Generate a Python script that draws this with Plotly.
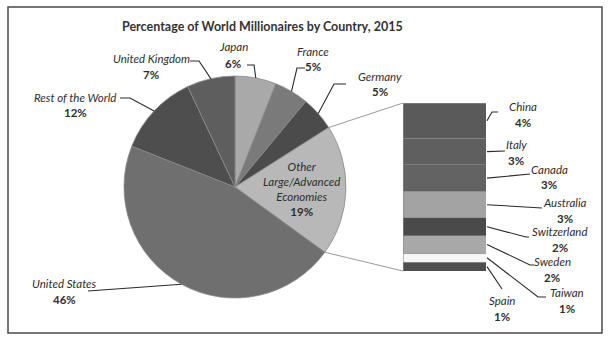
import math
import plotly.graph_objects as go

# ---------------- data ----------------
pie_labels = ["Japan", "France", "Germany", "Other<br>Large/Advanced<br>Economies",
              "United States", "Rest of the World", "United Kingdom"]
pie_values = [6, 5, 5, 19, 46, 12, 7]
pie_colors = ["#a9a9a9", "#7a7a7a", "#4b4b4b", "#b8b8b8", "#6f6f6f", "#4e4e4e", "#5e5e5e"]

bar_labels = ["Spain", "Taiwan", "Sweden", "Switzerland", "Australia", "Canada", "Italy", "China"]
bar_values = [1, 1, 2, 2, 3, 3, 3, 4]
bar_colors = ["#4f4f4f", "#f7f7f7", "#a8a8a8", "#4a4a4a", "#a3a3a3", "#636363", "#5f5f5f", "#5a5a5a"]

title = "Percentage of World Millionaires by Country, 2015"

# ---------------- layout geometry (pixels) ----------------
W, H = 609, 340
CX, CY, R = 235, 187, 111           # pie centre / radius
BX0, BX1, BY0, BY1 = 403, 486, 103, 271   # bar box (top y0, bottom y1)


def px(x):
    return x / W


def py(y):
    return 1 - y / H


def pie_point(frac):
    a = 2 * math.pi * frac
    return CX + R * math.sin(a), CY - R * math.cos(a)


total = sum(pie_values)
cum = []
c = 0
for v in pie_values:
    cum.append((c, c + v))
    c += v
mid = [pie_point((a + b) / 2 / total) for a, b in cum]

bar_total = sum(bar_values)
scale = (BY1 - BY0) / bar_total
bcum = []
c = 0
for v in bar_values:
    bcum.append((c, c + v))
    c += v
bar_mid_y = [BY1 - (a + b) / 2 * scale for a, b in bcum]

fig = go.Figure()

fig.add_trace(go.Pie(
    labels=pie_labels, values=pie_values, sort=False, direction="clockwise", rotation=0,
    marker=dict(colors=pie_colors, line=dict(color="#8a8a8a", width=0.8)),
    textinfo="none", hoverinfo="label+value", showlegend=False,
    domain=dict(x=[px(CX - R), px(CX + R)], y=[py(CY + R), py(CY - R)]),
))

for lab, val, col in zip(bar_labels, bar_values, bar_colors):
    fig.add_trace(go.Bar(
        x=[0], y=[val], name=lab, marker=dict(color=col, line=dict(color="#8c8c8c", width=0.6)),
        width=1, showlegend=False, xaxis="x", yaxis="y",
    ))

fig.update_layout(
    width=W, height=H, margin=dict(l=0, r=0, t=0, b=0),
    paper_bgcolor="white", plot_bgcolor="rgba(0,0,0,0)",
    barmode="stack",
    xaxis=dict(domain=[px(BX0), px(BX1)], range=[-0.5, 0.5], visible=False, fixedrange=True),
    yaxis=dict(domain=[py(BY1), py(BY0)], range=[0, bar_total], visible=False, fixedrange=True),
)

FONT = "Lato"
LBL = "#2e2e2e"
FS = 11.5
shapes = []
annotations = []

# frame
shapes.append(dict(type="rect", xref="paper", yref="paper", x0=px(8), x1=px(602), y0=py(333), y1=py(7),
                   line=dict(color="#4a4a4a", width=1.5)))

# title
annotations.append(dict(text="<b>" + title + "</b>", x=px(262), y=py(27), xref="paper", yref="paper",
                        showarrow=False, font=dict(family=FONT, size=12.5, color="#333333"),
                        xanchor="center", yanchor="middle"))


def path(points):
    s = "M {} {}".format(px(points[0][0]), py(points[0][1]))
    for x, y in points[1:]:
        s += " L {} {}".format(px(x), py(y))
    return s


def add_leader(points, color="#2a2a2a", width=1.1):
    shapes.append(dict(type="path", xref="paper", yref="paper", path=path(points),
                       line=dict(color=color, width=width)))


def add_label(name, val, x, y, size=FS):
    annotations.append(dict(text="<i>" + name + "</i>", x=px(x), y=py(y), xref="paper", yref="paper",
                            showarrow=False, font=dict(family=FONT, size=size, color=LBL),
                            xanchor="center", yanchor="middle"))
    annotations.append(dict(text="<b>" + str(val) + "%</b>", x=px(x), y=py(y + 16), xref="paper",
                            yref="paper", showarrow=False, font=dict(family=FONT, size=size, color=LBL),
                            xanchor="center", yanchor="middle"))


# pie labels: (text position, leader elbow points from label side)
pie_label_pos = {
    "Japan": ((233, 47), [(247, 65), (254, 65)]),
    "France": ((313, 51), [(305, 68), (297, 68)]),
    "Germany": ((380, 76), [(346, 84), (334, 84)]),
    "United Kingdom": ((151, 58), [(190, 61), (199, 61)]),
    "Rest of the World": ((75, 97), [(120, 98), (130, 98)]),
    "United States": ((64, 283), [(88, 291)]),
}
short_names = ["Japan", "France", "Germany", None, "United States", "Rest of the World", "United Kingdom"]
for i, nm in enumerate(short_names):
    if nm is None:
        continue
    (tx, ty), elbow = pie_label_pos[nm]
    add_label(nm, pie_values[i], tx, ty)
    add_leader(elbow + [mid[i]])

# inside label for Other
annotations.append(dict(text="<i>Other<br>Large/Advanced<br>Economies</i><br><b>19%</b>",
                        x=px(301), y=py(189), xref="paper", yref="paper", showarrow=False,
                        font=dict(family=FONT, size=FS, color=LBL), xanchor="center", yanchor="middle"))

# connector lines pie -> bar
p_top = pie_point(cum[2][1] / total)
p_bot = pie_point(cum[3][1] / total)
add_leader([p_top, (BX0, BY0)], color="#9a9a9a", width=1)
add_leader([p_bot, (BX0, BY1)], color="#9a9a9a", width=1)

# bar labels
bar_label_pos = {
    "China": ((523, 106), [(492, 112), (498, 112)]),
    "Italy": ((516, 144), [(505, 151)]),
    "Canada": ((549, 169), [(530, 174)]),
    "Australia": ((565, 202), [(542, 208)]),
    "Switzerland": ((560, 231), [(526, 237), (529, 237)]),
    "Sweden": ((552, 261), [(530, 265), (534, 265)]),
    "Taiwan": ((567, 292), [(538, 297), (546, 297)]),
    "Spain": ((502, 300), [(502, 289)]),
}
for i, nm in enumerate(bar_labels):
    (tx, ty), elbow = bar_label_pos[nm]
    add_label(nm, bar_values[i], tx, ty)
    add_leader([(BX1 + 1, bar_mid_y[i])] + elbow)

fig.update_layout(shapes=shapes, annotations=annotations)
fig.write_html("out.html")
